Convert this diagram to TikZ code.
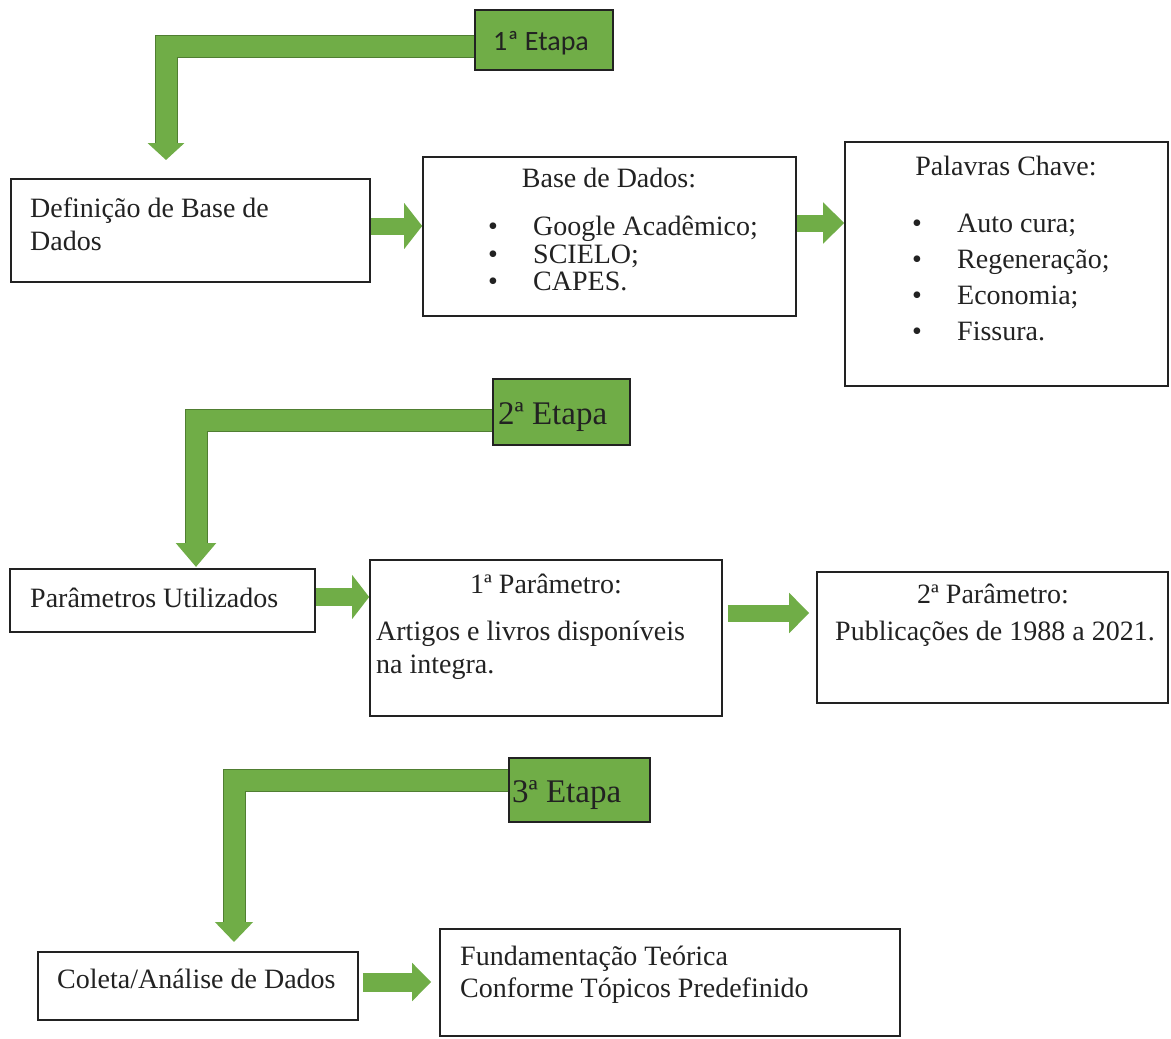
\documentclass[tikz,border=0pt]{standalone}
\usepackage{fontspec}
\setmainfont{Liberation Serif}
\newfontfamily\calibfont{Carlito}
\usetikzlibrary{arrows.meta,backgrounds}

\definecolor{leaf}{HTML}{70AD47}
\definecolor{leafdark}{HTML}{507E32}
\definecolor{ink}{HTML}{222222}
\newcommand\txtsize{\fontsize{28}{32}\selectfont}
\newcommand\etapasize{\fontsize{33}{36}\selectfont}

\begin{document}
\begin{tikzpicture}[x=1pt,y=-1pt,
  box/.style={draw=ink, line width=1.6pt, fill=white, inner sep=0pt},
  etapabox/.style={draw=ink, line width=1.6pt, fill=leaf, inner sep=0pt},
  txt/.style={inner sep=0pt, anchor=base west, text=ink, font=\txtsize},
  ctxt/.style={inner sep=0pt, anchor=base, text=ink, font=\txtsize},
  bul/.style={inner sep=0pt, anchor=base, text=ink, font=\txtsize},
  etxt/.style={inner sep=0pt, anchor=base west, text=ink, font=\etapasize},
  rarr/.style n args={3}{draw=leaf, line width=#1, -{Triangle[width=#2,length=#3]}},
  barshade/.style={draw=leafdark, line width=23pt, line join=miter},
  barfill/.style n args={2}{draw=leaf, line width=21pt, line join=miter, -{Triangle[width=#1,length=#2]}}
]
\useasboundingbox (0,0) rectangle (1171,1039);

% ---------- stage 1 ----------
\node[etapabox, minimum width=138pt, minimum height=60pt] (e1) at (544,40) {};
\node[inner sep=0pt, anchor=base west, font=\calibfont\fontsize{28}{30}\selectfont, text=ink] (e1t) at (493,50) {1ª Etapa};

\node[box, minimum width=359pt, minimum height=103pt] (def) at (190.5,230.5) {};
\node[txt] (def1) at (30,217) {Definição de Base de};
\node[txt] (def2) at (30,250) {Dados};

\node[box, minimum width=373pt, minimum height=159pt] (base) at (609.5,236.5) {};
\node[ctxt] (baset) at (609,187) {Base de Dados:};
\node[bul] (bb1) at (493,235) {•};
\node[txt] (bt1) at (533,235) {Google Acadêmico;};
\node[bul] (bb2) at (493,263) {•};
\node[txt] (bt2) at (533,263) {SCIELO;};
\node[bul] (bb3) at (493,290) {•};
\node[txt] (bt3) at (533,290) {CAPES.};

\node[box, minimum width=323pt, minimum height=244pt] (pal) at (1006.5,264) {};
\node[ctxt] (palt) at (1006,175) {Palavras Chave:};
\node[bul] (pb1) at (917,232) {•};
\node[txt] (pt1) at (957,232) {Auto cura;};
\node[bul] (pb2) at (917,268) {•};
\node[txt] (pt2) at (957,268) {Regeneração;};
\node[bul] (pb3) at (917,304) {•};
\node[txt] (pt3) at (957,304) {Economia;};
\node[bul] (pb4) at (917,340) {•};
\node[txt] (pt4) at (957,340) {Fissura.};

% ---------- stage 2 ----------
\node[etapabox, minimum width=137pt, minimum height=66pt] (e2) at (561.5,412) {};
\node[etxt] (e2t) at (498,424) {2ª Etapa};

\node[box, minimum width=305pt, minimum height=63pt] (par) at (162.5,600.5) {};
\node[txt] (part) at (30,607) {Parâmetros Utilizados};

\node[box, minimum width=352pt, minimum height=156pt] (p1) at (546,638) {};
\node[ctxt] (p1t) at (546,593) {1ª Parâmetro:};
\node[txt] (p1a) at (376,640) {Artigos e livros disponíveis};
\node[txt] (p1b) at (376,673) {na integra.};

\node[box, minimum width=351pt, minimum height=131pt] (p2) at (992.5,637.5) {};
\node[ctxt] (p2t) at (993,603) {2ª Parâmetro:};
\node[txt] (p2a) at (835,640) {Publicações de 1988 a 2021.};

% ---------- stage 3 ----------
\node[etapabox, minimum width=141pt, minimum height=64pt] (e3) at (579.5,790) {};
\node[etxt] (e3t) at (512,802) {3ª Etapa};

\node[box, minimum width=320pt, minimum height=68pt] (col) at (198,986) {};
\node[txt] (colt) at (57,988) {Coleta/Análise de Dados};

\node[box, minimum width=460pt, minimum height=107pt] (fun) at (670,982.5) {};
\node[txt] (fun1) at (460,965) {Fundamentação Teórica};
\node[txt] (fun2) at (460,997) {Conforme Tópicos Predefinido};

% ---------- arrows ----------
\coordinate (t1) at (166,160);
\coordinate (t2) at (196,567);
\coordinate (t3) at (234,942);

\begin{scope}[on background layer]
  \fill[white] (0,0) rectangle (1171,1039);
  % bent stage arrows
  \draw[barshade] (e1.west |- 0,46) -| (166,143);
  \draw[barfill={36pt}{17pt}] (e1.west |- 0,46) -| (t1);
  \draw[barshade] (e2.west |- 0,420) -| (196,543);
  \draw[barfill={39pt}{24pt}] (e2.west |- 0,420) -| (t2);
  \draw[barshade] (e3.west |- 0,780) -| (234,922);
  \draw[barfill={37pt}{20pt}] (e3.west |- 0,780) -| (t3);

  % straight block arrows between boxes
  \draw[rarr={17pt}{45pt}{18pt}] (def.east |- 0,226) -- (base.west |- 0,226);
  \draw[rarr={17pt}{40pt}{21pt}] (base.east |- 0,223) -- (pal.west |- 0,223);
  \draw[rarr={18pt}{43pt}{17pt}] (par.east |- 0,597) -- (p1.west |- 0,597);
  \draw[rarr={17pt}{39pt}{20pt}] ([xshift=5pt]p1.east |- 0,613) -- ([xshift=-7pt]p2.west |- 0,613);
  \draw[rarr={19pt}{37pt}{19pt}] ([xshift=4pt]col.east |- 0,982) -- ([xshift=-8pt]fun.west |- 0,982);
\end{scope}
\end{tikzpicture}
\end{document}
